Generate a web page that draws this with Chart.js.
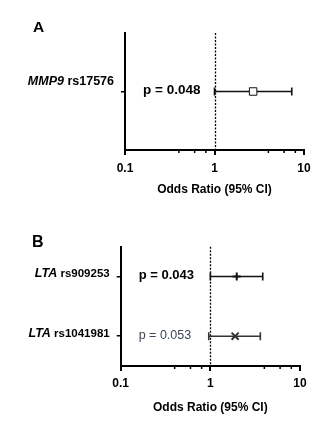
<!DOCTYPE html>
<html>
<head>
<meta charset="utf-8">
<script src="https://cdn.jsdelivr.net/npm/chart.js@4.4.0/dist/chart.umd.min.js"></script>
<style>
  body { margin: 0; background: #fff; }
  canvas { position: absolute; left: 0; }
</style>
</head>
<body>
<canvas id="panelA" width="321" height="212" style="top:0"></canvas>
<canvas id="panelB" width="321" height="212" style="top:212px"></canvas>
<script>
// Panel A
const genesA = ['MMP9'];
const snpsA = ['rs17576'];
const oddsA = [2.7];
const lowerA = [1.0];
const upperA = [7.3];
const pTextA = ['p = 0.048'];

// Panel B
const genesB = ['LTA', 'LTA'];
const snpsB = ['rs909253', 'rs1041981'];
const oddsB = [1.97, 1.89];
const lowerB = [1.0, 0.96];
const upperB = [3.84, 3.61];
const pTextB = ['p = 0.043', 'p = 0.053'];

// x axis ticks
const majorTicks = [0.1, 1, 10];
const minorTicks = [0.4, 0.6, 0.8, 4, 6, 8];

const FONT = "'Liberation Sans', Arial, sans-serif";
const H = 212;

function crearPanel(id, o) {
    const n = o.odds.length;
    // rows from top to bottom, one unit apart by two
    const filas = o.odds.map((_, i) => 2 * (n - i) - 1);
    const puntos = o.odds.map((v, i) => ({ x: v, y: filas[i] }));

    const forest = {
        id: 'forest',
        beforeDatasetsDraw(chart) {
            const { ctx, chartArea, scales: { x, y } } = chart;
            ctx.save();

            // dotted line at OR = 1
            const x1 = Math.round(x.getPixelForValue(1)) + 0.5;
            ctx.strokeStyle = '#000';
            ctx.lineWidth = 1.3;
            ctx.setLineDash([2, 1.5]);
            ctx.beginPath();
            ctx.moveTo(x1, chartArea.top);
            ctx.lineTo(x1, chartArea.bottom);
            ctx.stroke();
            ctx.setLineDash([]);

            // confidence intervals
            o.lower.forEach((lo, i) => {
                const py = y.getPixelForValue(filas[i]);
                const xa = x.getPixelForValue(lo);
                const xb = x.getPixelForValue(o.upper[i]);
                ctx.strokeStyle = o.colores[i];
                ctx.lineWidth = 1.6;
                ctx.beginPath();
                ctx.moveTo(xa, py); ctx.lineTo(xb, py);
                ctx.moveTo(xa, py - 4); ctx.lineTo(xa, py + 4);
                ctx.moveTo(xb, py - 4); ctx.lineTo(xb, py + 4);
                ctx.stroke();
            });

            // minor ticks of the log axis
            ctx.strokeStyle = '#000';
            ctx.lineWidth = 1.5;
            minorTicks.forEach(v => {
                const px = x.getPixelForValue(v);
                ctx.beginPath();
                ctx.moveTo(px, chartArea.bottom);
                ctx.lineTo(px, chartArea.bottom + 3);
                ctx.stroke();
            });
            ctx.restore();
        },
        afterDraw(chart) {
            const { ctx, chartArea, scales: { y } } = chart;
            ctx.save();
            ctx.fillStyle = '#000';
            ctx.textBaseline = 'alphabetic';

            // row labels: gene in italics + snp
            o.genes.forEach((g, i) => {
                const py = y.getPixelForValue(filas[i]) + o.labelShift;
                const right = chartArea.left - 11;
                ctx.textAlign = 'right';
                ctx.font = `bold ${o.snpSize}px ${FONT}`;
                const snp = ' ' + o.snps[i];
                const w = ctx.measureText(snp).width;
                ctx.fillText(snp, right, py);
                ctx.font = `italic bold ${o.geneSize}px ${FONT}`;
                ctx.fillText(g, right - w, py);
            });

            // p values
            o.pTexts.forEach((t, i) => {
                const py = y.getPixelForValue(filas[i]) + 2.5;
                ctx.textAlign = 'left';
                ctx.font = o.pFonts[i];
                ctx.fillStyle = o.pColores[i];
                ctx.fillText(t, chartArea.left + 18, py);
            });

            // panel letter
            ctx.fillStyle = '#000';
            ctx.textAlign = 'left';
            ctx.font = `bold ${o.letra.size}px ${FONT}`;
            ctx.fillText(o.letra.text, o.letra.x, o.letra.y);
            ctx.restore();
        }
    };

    return new Chart(document.getElementById(id), {
        type: 'scatter',
        data: {
            datasets: [{
                data: puntos,
                pointStyle: o.marcas,
                pointRadius: o.radios,
                pointBorderWidth: o.grosor,
                pointBorderColor: o.colores,
                pointBackgroundColor: '#fff'
            }]
        },
        options: {
            responsive: false,
            animation: false,
            layout: { padding: { top: o.area.top, right: 321 - o.area.right, left: 0, bottom: 0 } },
            plugins: { legend: { display: false }, tooltip: { enabled: false } },
            scales: {
                x: {
                    type: 'logarithmic',
                    min: 0.1,
                    max: 10,
                    afterBuildTicks: s => { s.ticks = majorTicks.map(v => ({ value: v, major: true })); },
                    afterFit: s => { s.height = H - o.area.bottom; s.paddingLeft = 0; s.paddingRight = 0; },
                    grid: { drawOnChartArea: false, color: '#000', tickLength: 5, lineWidth: 2 },
                    border: { color: '#000', width: 2 },
                    ticks: {
                        color: '#000',
                        font: { family: FONT, size: 12, weight: 'bold' },
                        padding: o.tickPad,
                        maxRotation: 0,
                        autoSkip: false,
                        callback: v => String(v)
                    },
                    title: {
                        display: true,
                        text: 'Odds Ratio (95% CI)',
                        color: '#000',
                        font: { family: FONT, size: 12, weight: 'bold' },
                        padding: { top: 0, bottom: o.titlePad }
                    }
                },
                y: {
                    min: 0,
                    max: 2 * n,
                    afterBuildTicks: s => { s.ticks = filas.map(v => ({ value: v })); },
                    afterFit: s => { s.width = o.area.left; s.paddingTop = 0; s.paddingBottom = 0; },
                    grid: { drawOnChartArea: false, color: '#000', tickLength: 4, lineWidth: 1.5 },
                    border: { color: '#000', width: 2 },
                    ticks: { display: false }
                }
            }
        },
        plugins: [forest]
    });
}

crearPanel('panelA', {
    genes: genesA, snps: snpsA, odds: oddsA, lower: lowerA, upper: upperA, pTexts: pTextA,
    area: { left: 125, right: 304, top: 33, bottom: 150 },
    tickPad: 6.8, titlePad: 14.8,
    labelShift: -7, geneSize: 12.5, snpSize: 12.5,
    marcas: ['rect'], radios: [5.3], grosor: 1,
    colores: ['#111'],
    pFonts: [`bold 13.5px ${FONT}`], pColores: ['#000'],
    letra: { text: 'A', x: 33, y: 32, size: 15.5 }
});

crearPanel('panelB', {
    genes: genesB, snps: snpsB, odds: oddsB, lower: lowerB, upper: upperB, pTexts: pTextB,
    area: { left: 120.7, right: 300, top: 34.7, bottom: 154 },
    tickPad: 5.8, titlePad: 8.8,
    labelShift: 0.5, geneSize: 12.5, snpSize: 11.5,
    marcas: ['cross', 'crossRot'], radios: [4, 5], grosor: 2,
    colores: ['#111', '#333'],
    pFonts: [`bold 13px ${FONT}`, `12.5px ${FONT}`], pColores: ['#000', '#3b4556'],
    letra: { text: 'B', x: 32, y: 35, size: 16 }
});
</script>
</body>
</html>
